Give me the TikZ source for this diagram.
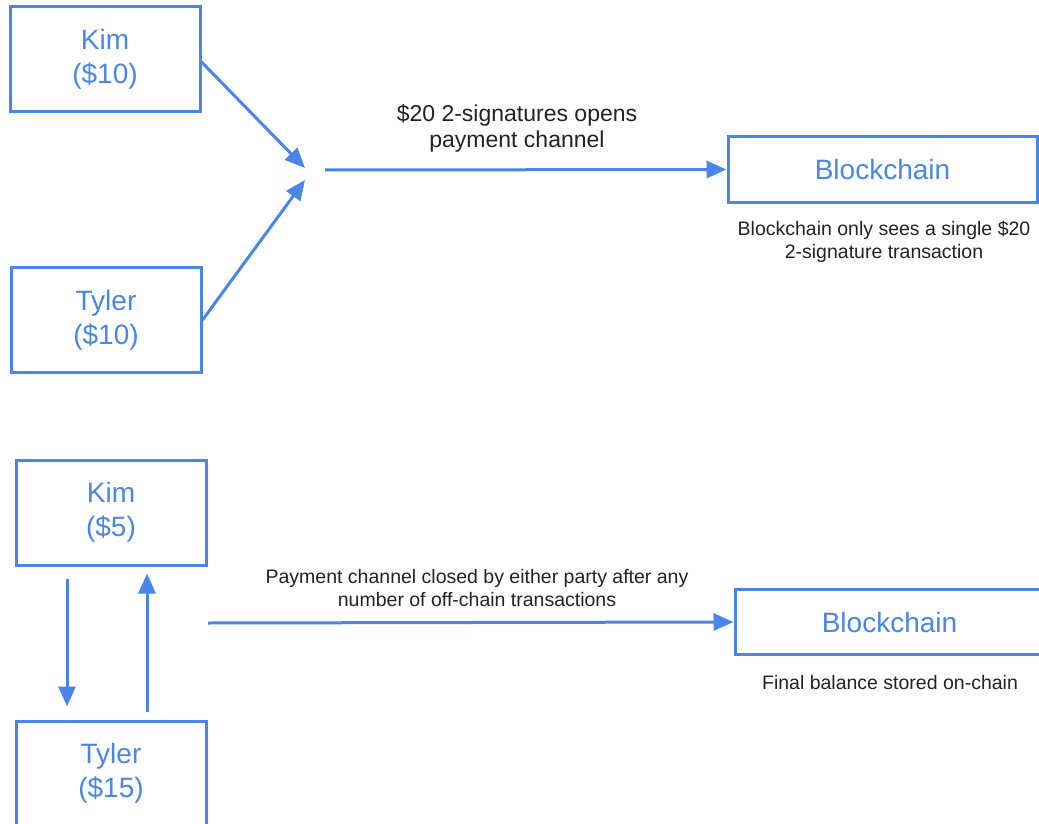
\documentclass[tikz,border=0pt]{standalone}
\usepackage{fontspec}
\setmainfont{Liberation Sans}
\usetikzlibrary{arrows.meta}
\definecolor{chanblue}{HTML}{4A86E8}
\definecolor{notegray}{HTML}{222222}
\tikzset{
  party/.style={draw=chanblue,line width=3pt,text=chanblue,align=center,
    minimum width=190pt,minimum height=105pt,inner sep=0pt,
    font=\fontsize{28}{34}\selectfont},
  chainbox/.style={party,minimum width=309pt,minimum height=65pt},
  flow/.style={draw=chanblue,line width=3pt,-{Triangle[length=20pt,width=17pt]}},
  note/.style={text=notegray,align=center,font=\fontsize{19.5}{23.5}\selectfont},
  bignote/.style={note,font=\fontsize{23}{26}\selectfont}
}
\begin{document}
\begin{tikzpicture}[x=1pt,y=-1pt]
    \useasboundingbox (0,0) rectangle (1039,824);
    % opening the channel
    \begin{scope}
      \node[party] (kimA) at (105,59) {Kim\\(\$10)};
      \node[party] (tylerA) at (106,320) {Tyler\\(\$10)};
      \node[chainbox] (chainA) at (882.5,169.5) {Blockchain};
      \coordinate (hubA) at (305,168);
      \coordinate (hubB) at (305,180);
      \coordinate (openstart) at (325,170);
      \draw[flow] ([yshift=-3pt]kimA.east) -- (hubA);
      \draw[flow] (tylerA.east) -- (hubB);
      \draw[flow] (openstart) -- (chainA.west);
      \node[bignote] (openlbl) at (517,128) {\$20 2-signatures opens\\payment channel};
      \node[note] (seeslbl) at (884,242) {Blockchain only sees a single \$20\\2-signature transaction};
    \end{scope}
    % closing the channel
    \begin{scope}
      \node[party] (kimB) at (111,512.5) {Kim\\(\$5)};
      \node[party] (tylerB) at (111,773.5) {Tyler\\(\$15)};
      \node[chainbox] (chainB) at (889.5,622) {Blockchain};
      \coordinate (closestart) at (208,623);
      \draw[flow,shorten <=12pt,shorten >=13pt]
        ([xshift=-44pt]kimB.south) -- ([xshift=-44pt]tylerB.north);
      \draw[flow,shorten <=8pt,shorten >=7pt]
        ([xshift=36pt]tylerB.north) -- ([xshift=36pt]kimB.south);
      \draw[flow] (closestart) -- (chainB.west);
      \node[note] (closelbl) at (477,588) {Payment channel closed by either party after any\\number of off-chain transactions};
      \node[note] (finallbl) at (890,683) {Final balance stored on-chain};
    \end{scope}
\end{tikzpicture}
\end{document}
